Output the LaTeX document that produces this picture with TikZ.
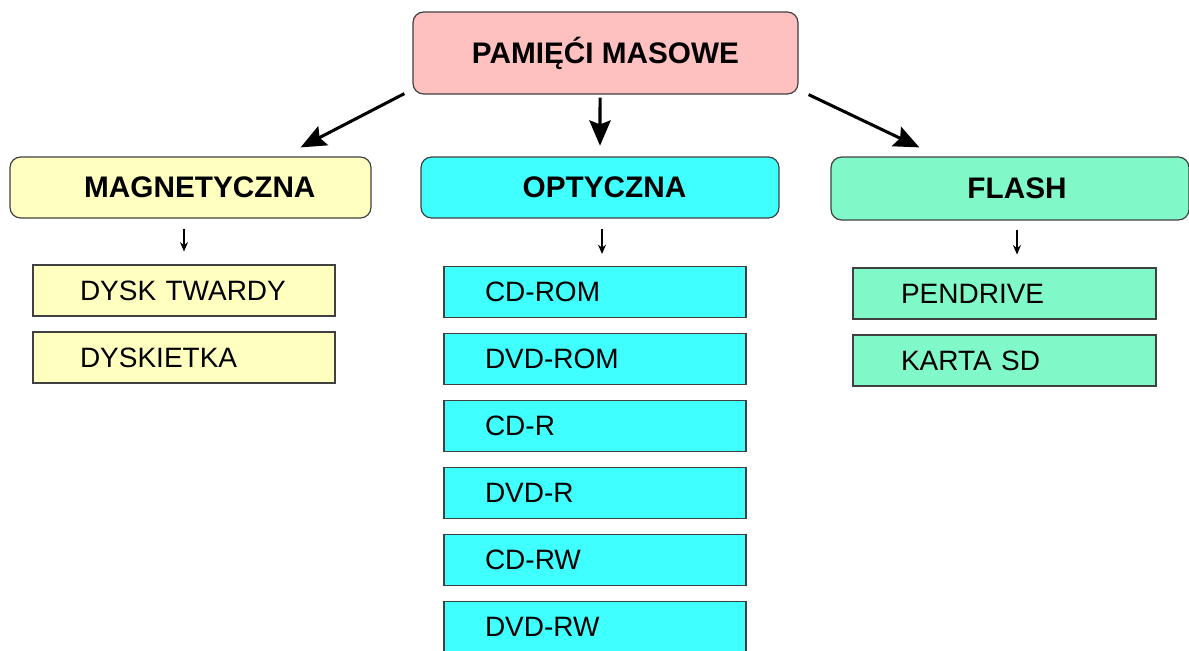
\documentclass[tikz,border=0pt]{standalone}
\usepackage{fontspec}
\setmainfont{Liberation Sans}
\usetikzlibrary{arrows.meta}
\definecolor{pinkc}{HTML}{FFC0C0}
\definecolor{yelc}{HTML}{FFFFC0}
\definecolor{cyanc}{HTML}{40FFFF}
\definecolor{greenc}{HTML}{80F8C8}
\begin{document}
\begin{tikzpicture}[x=0.75pt,y=-0.75pt,
  catbox/.style={draw=black!75, line width=0.9pt, rounded corners=8pt, inner sep=0pt,
    font=\bfseries\fontsize{22.3}{26}\selectfont},
  itembox/.style={draw=black!75, line width=0.8pt, inner ysep=0pt, align=left,
    minimum height=38.25pt, font=\fontsize{21}{25}\selectfont},
  leftcol/.style={itembox, fill=yelc, inner xsep=35.25pt, text width=156pt},
  midcol/.style={itembox, fill=cyanc, inner xsep=30.75pt, text width=165pt},
  rightcol/.style={itembox, fill=greenc, inner xsep=36pt, text width=155.25pt},
  bigarrow/.style={line width=2.3pt, -{Stealth[length=19pt,width=16pt,inset=3pt]}},
  smallarrow/.style={line width=0.9pt, -{Stealth[length=7pt,width=6pt]}}]
\useasboundingbox (0,0) rectangle (1189,650);
% top
\node[catbox, fill=pinkc, minimum width=288.75pt, minimum height=61.5pt] (top) at (605.5,53) {\raisebox{-1.5pt}{PAMIĘĆI MASOWE}};
% categories
\node[catbox, fill=yelc, minimum width=270.75pt, minimum height=45.75pt] (mag) at (190.5,187.5) {\hspace*{14pt}\raisebox{-2.5pt}{MAGNETYCZNA}};
\node[catbox, fill=cyanc, minimum width=268.5pt, minimum height=45.75pt] (opt) at (600,187.5) {\hspace*{6.75pt}\raisebox{-2.5pt}{OPTYCZNA}};
\node[catbox, fill=greenc, minimum width=268.5pt, minimum height=47.25pt] (fla) at (1010,188.5) {\hspace*{10.5pt}\raisebox{-1.5pt}{FLASH}};
% left items
\node[leftcol] (dysk) at (184,290.5) {\raisebox{-1.5pt}{DYSK TWARDY}};
\node[leftcol] (dyskietka) at (184,357.5) {\raisebox{-1.5pt}{DYSKIETKA}};
% middle items
\node[midcol] (cdrom) at (595,292) {\raisebox{-1.5pt}{CD-ROM}};
\node[midcol] (dvdrom) at (595,359) {\raisebox{-1.5pt}{DVD-ROM}};
\node[midcol] (cdr) at (595,426) {\raisebox{-1.5pt}{CD-R}};
\node[midcol] (dvdr) at (595,493) {\raisebox{-1.5pt}{DVD-R}};
\node[midcol] (cdrw) at (595,560) {\raisebox{-1.5pt}{CD-RW}};
\node[midcol] (dvdrw) at (595,627) {\raisebox{-1.5pt}{DVD-RW}};
% right items
\node[rightcol] (pen) at (1004.5,293.5) {\raisebox{-1.5pt}{PENDRIVE}};
\node[rightcol] (karta) at (1004.5,360.5) {\raisebox{-1.5pt}{KARTA SD}};
% big arrows
\draw[bigarrow] ([xshift=-6pt,yshift=0.75pt]top.south west) -- ([xshift=-53.25pt,yshift=6.75pt]mag.north east);
\draw[bigarrow] ([xshift=-4.1pt,yshift=-2.25pt]top.south) -- ([yshift=8pt]opt.north);
\draw[bigarrow] ([xshift=7.5pt]top.south east) -- ([xshift=66.75pt,yshift=6.75pt]fla.north west);
% small arrows
\draw[smallarrow] ([yshift=-7.5pt]mag.south -| dysk.north) -- ([yshift=9.75pt]dysk.north);
\draw[smallarrow] ([xshift=1.5pt,yshift=-7.5pt]opt.south) -- ([xshift=1.5pt,yshift=9pt]opt.south |- cdrom.north);
\draw[smallarrow] ([xshift=5.25pt,yshift=-6.75pt]fla.south) -- ([xshift=5.25pt,yshift=9.75pt]fla.south |- pen.north);
\end{tikzpicture}
\end{document}
